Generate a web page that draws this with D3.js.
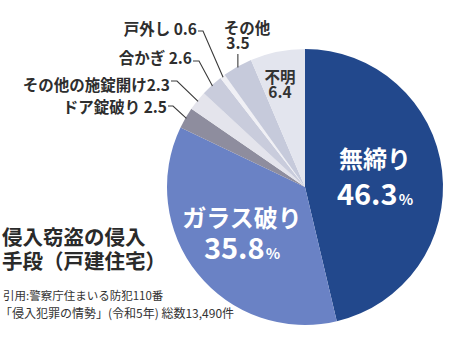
<!DOCTYPE html>
<html>
<head>
<meta charset="utf-8">
<script src="https://cdn.jsdelivr.net/npm/d3@7"></script>
<style>
  html, body { margin: 0; padding: 0; background: #fff; }
  svg { display: block; font-family: "Noto Sans CJK JP", "Noto Sans", sans-serif; }
</style>
</head>
<body>
<svg id="chart" width="470" height="341"></svg>
<script>
// 侵入手段の内訳（%）— clockwise from 12 o'clock
const categories = ["無締り", "ガラス破り", "ドア錠破り", "その他の施錠開け", "合かぎ", "戸外し", "その他", "不明"];
const values = [46.3, 35.8, 2.5, 2.3, 2.6, 0.6, 3.5, 6.4];
const sliceColors = ["#22488c", "#6a82c5", "#8e8d9e", "#e4e4ec", "#c9ccdc", "#f0f0f5", "#c6cadb", "#e3e5ee"];

const titleLines = ["侵入窃盗の侵入", "手段（戸建住宅）"];
const sourceLines = ["引用:警察庁住まいる防犯110番", "「侵入犯罪の情勢」(令和5年) 総数13,490件"];

const svg = d3.select("#chart");
const cx = 305, cy = 187, R = 138;

const pie = d3.pie().sort(null).value(d => d)(values);
const arc = d3.arc().innerRadius(0).outerRadius(R);

const g = svg.append("g").attr("transform", `translate(${cx},${cy})`);
g.selectAll("path.slice")
  .data(pie)
  .join("path")
  .attr("class", "slice")
  .attr("d", arc)
  .attr("fill", (d, i) => sliceColors[i]);

// point on the rim at the middle of slice i (absolute coords)
function rimPoint(i, r = R) {
  const a = (pie[i].startAngle + pie[i].endAngle) / 2;
  return [cx + r * Math.sin(a), cy - r * Math.cos(a)];
}

// big labels inside the two main slices
const inner = [
  { i: 0, x: 375, y1: 168, y2: 205 },
  { i: 1, x: 242, y1: 227, y2: 259 }
];
inner.forEach(L => {
  svg.append("text")
    .attr("x", L.x).attr("y", L.y1)
    .attr("text-anchor", "middle")
    .attr("fill", "#fff").attr("font-weight", 700).attr("font-size", 24)
    .text(categories[L.i]);
  const t = svg.append("text")
    .attr("x", L.x).attr("y", L.y2)
    .attr("text-anchor", "middle")
    .attr("fill", "#fff").attr("font-weight", 700);
  t.append("tspan").attr("font-size", 29).text(values[L.i].toFixed(1));
  t.append("tspan").attr("font-size", 15).attr("dx", 1).text("%");
});

// 不明 inside its slice
const smallFont = 15.5;
svg.append("text").attr("x", 280).attr("y", 83)
  .attr("text-anchor", "middle").attr("fill", "#333").attr("font-weight", 700).attr("font-size", smallFont)
  .text(categories[7]);
svg.append("text").attr("x", 280).attr("y", 98)
  .attr("text-anchor", "middle").attr("fill", "#333").attr("font-weight", 700).attr("font-size", smallFont)
  .text(values[7].toFixed(1));

// callout labels with leader lines on the upper-left
const callouts = [
  { i: 5, x: 197, y: 35, ty: 31, ex: 203 },
  { i: 4, x: 192, y: 64, ty: 61, ex: 199 },
  { i: 3, x: 170, y: 91, ty: 81, ex: 177 },
  { i: 2, x: 167, y: 113, ty: 106, ex: 173 }
];
callouts.forEach(L => {
  const label = (L.i === 3 ? categories[L.i] : categories[L.i] + " ") + values[L.i].toFixed(1);
  svg.append("text")
    .attr("x", L.x).attr("y", L.y)
    .attr("text-anchor", "end")
    .attr("fill", "#2e2e2e").attr("font-weight", 700).attr("font-size", smallFont)
    .text(label);
  const [px, py] = rimPoint(L.i, R - 1);
  svg.append("path")
    .attr("d", d3.line()([[L.x + 1, L.ty], [L.ex, L.ty], [px, py]]))
    .attr("fill", "none").attr("stroke", "#3a3a3a").attr("stroke-width", 1.1);
});

// その他: stacked label with a vertical leader
svg.append("text").attr("x", 247).attr("y", 34)
  .attr("text-anchor", "middle").attr("fill", "#2e2e2e").attr("font-weight", 700).attr("font-size", smallFont)
  .text(categories[6]);
svg.append("text").attr("x", 238).attr("y", 49)
  .attr("text-anchor", "middle").attr("fill", "#2e2e2e").attr("font-weight", 700).attr("font-size", smallFont)
  .text(values[6].toFixed(1));
{
  const [px, py] = rimPoint(6, R - 1);
  svg.append("line")
    .attr("x1", px).attr("x2", px).attr("y1", 54).attr("y2", py)
    .attr("stroke", "#3a3a3a").attr("stroke-width", 1.1);
}

// title
titleLines.forEach((t, k) => {
  svg.append("text")
    .attr("x", 2).attr("y", 245 + k * 24)
    .attr("fill", "#2a2a2a").attr("font-weight", 700).attr("font-size", 20.5)
    .text(t);
});

// source note
sourceLines.forEach((t, k) => {
  svg.append("text")
    .attr("x", k === 0 ? 3 : 0).attr("y", 300 + k * 18)
    .attr("fill", "#333").attr("font-size", k === 0 ? 11.5 : 12)
    .text(t);
});
</script>
</body>
</html>
